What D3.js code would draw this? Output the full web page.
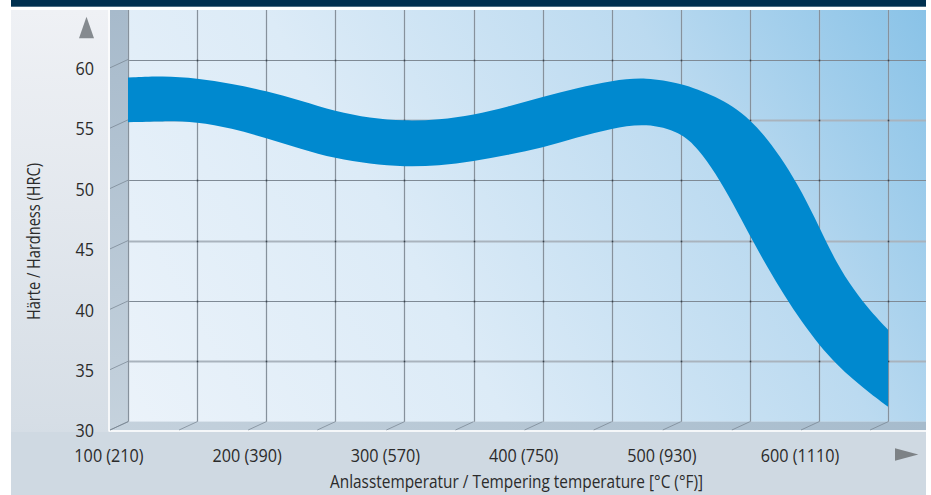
<!DOCTYPE html>
<html>
<head>
<meta charset="utf-8">
<script src="https://cdn.jsdelivr.net/npm/d3@7"></script>
<style>
  body { margin: 0; background: #ffffff; }
  svg { display: block; }
</style>
</head>
<body>
<svg id="chart" width="931" height="495"></svg>
<script>
// Tempering curve: hardness band (HRC) versus tempering temperature (°C)
const temps    = [100, 125, 150, 175, 200, 225, 250, 275, 300, 325, 350, 375, 400, 425, 450, 475, 500, 512.5, 525, 537.5, 550, 562.5, 575, 587.5, 600, 612.5, 625, 637.5, 650];
const upperHRC = [58.5, 58.65, 58.45, 58.0, 57.4, 56.6, 55.7, 55.15, 54.9, 55.0, 55.4, 56.1, 56.9, 57.65, 58.25, 58.55, 58.0, 57.51, 56.93, 56.14, 55.02, 53.45, 51.46, 49.06, 46.16, 43.17, 40.94, 39.11, 37.62];
const lowerHRC = [54.8, 54.9, 54.85, 54.3, 53.5, 52.6, 51.8, 51.35, 51.1, 51.2, 51.55, 52.1, 52.7, 53.55, 54.3, 54.75, 54.0, 52.6, 50.61, 48.13, 45.39, 42.83, 40.42, 38.27, 36.36, 34.79, 33.46, 32.3, 31.23];

const hrcTicks = [30, 35, 40, 45, 50, 55, 60];
const gridTemps = [100, 150, 200, 250, 300, 350, 400, 450, 500, 550, 600, 650];
const tempLabels = [
  { t: 100, label: "100 (210)" },
  { t: 200, label: "200 (390)" },
  { t: 300, label: "300 (570)" },
  { t: 400, label: "400 (750)" },
  { t: 500, label: "500 (930)" },
  { t: 600, label: "600 (1110)" }
];
const xTitle = "Anlasstemperatur / Tempering temperature [°C (°F)]";
const yTitle = "Härte / Hardness (HRC)";

const svg = d3.select("#chart");
const defs = svg.append("defs");

// Back wall geometry and pseudo-3D depth offset (back -> front)
const wall = { left: 128, right: 926, top: 10, bottom: 421.7 };
const depth = { dx: -18, dy: 8.3 };

const x = d3.scaleLinear().domain([100, 650]).range([128, 888.1]);
const y = d3.scaleLinear().domain([30, 60]).range([421.7, 59.5]);

const FONT = "'Open Sans', 'Noto Sans', sans-serif";

// ---------- gradients ----------
function linGrad(id, x1, y1, x2, y2, stops) {
  const g = defs.append("linearGradient").attr("id", id)
    .attr("gradientUnits", "userSpaceOnUse")
    .attr("x1", x1).attr("y1", y1).attr("x2", x2).attr("y2", y2);
  stops.forEach(([o, c]) => g.append("stop").attr("offset", o).attr("stop-color", c));
}
linGrad("bgGrad", 0, 10, 0, 495, [[0, "#eff1f5"], [0.85, "#d6dee6"], [1, "#cdd8e1"]]);
linGrad("wallGrad", 128, 470, 926, 0, [[0, "#ecf3fa"], [0.38, "#dcebf7"], [0.72, "#bbdaf0"], [1, "#88c2e7"]]);
linGrad("sideGrad", 0, 10, 0, 432, [[0, "#a7bacb"], [1, "#c5d2dd"]]);
linGrad("floorGrad", 110, 0, 926, 0, [[0, "#c5d2dd"], [1, "#a6bbcc"]]);

// ---------- background panels ----------
svg.append("rect").attr("x", 11).attr("y", 0).attr("width", 915).attr("height", 6.7).attr("fill", "#00304f");
svg.append("rect").attr("x", 11).attr("y", 10).attr("width", 915).attr("height", 485).attr("fill", "url(#bgGrad)");
svg.append("rect").attr("x", 11).attr("y", 432).attr("width", 915).attr("height", 63).attr("fill", "#cfd9e2");

// back wall
svg.append("rect")
  .attr("x", wall.left).attr("y", wall.top)
  .attr("width", wall.right - wall.left).attr("height", wall.bottom - wall.top)
  .attr("fill", "url(#wallGrad)");

// left side wall
svg.append("rect")
  .attr("x", wall.left + depth.dx).attr("y", wall.top)
  .attr("width", -depth.dx).attr("height", wall.bottom + depth.dy - wall.top)
  .attr("fill", "url(#sideGrad)");

// floor
svg.append("rect")
  .attr("x", wall.left + depth.dx).attr("y", wall.bottom)
  .attr("width", wall.right - wall.left - depth.dx).attr("height", depth.dy)
  .attr("fill", "url(#floorGrad)");

// white front edges
svg.append("line")
  .attr("x1", wall.left + depth.dx - 1).attr("x2", wall.left + depth.dx - 1)
  .attr("y1", wall.top).attr("y2", wall.bottom + depth.dy + 1.5)
  .attr("stroke", "#ffffff").attr("stroke-width", 1.5);
svg.append("line")
  .attr("x1", wall.left + depth.dx - 1).attr("x2", wall.right)
  .attr("y1", wall.bottom + depth.dy + 1).attr("y2", wall.bottom + depth.dy + 1)
  .attr("stroke", "#ffffff").attr("stroke-width", 1.5);

// ---------- grid ----------
const grid = svg.append("g");

// horizontal grid lines on the back wall
hrcTicks.filter(v => v > 30).forEach(v => {
  const yy = Math.round(y(v)) + 0.5;
  const soft = (v / 5) % 2 === 1; // 35, 45, 55
  grid.append("line")
    .attr("x1", wall.left).attr("x2", wall.right)
    .attr("y1", yy).attr("y2", yy)
    .attr("stroke", soft ? "#a9b3bd" : "#7f8a95")
    .attr("stroke-width", soft ? 2 : 1);
});

// vertical grid lines on the back wall
gridTemps.forEach(t => {
  const xx = Math.round(x(t)) + 0.5;
  grid.append("line")
    .attr("x1", xx).attr("x2", xx)
    .attr("y1", wall.top).attr("y2", wall.bottom)
    .attr("stroke", "#b2bcc6").attr("stroke-width", 2).attr("stroke-opacity", 0.45);
  grid.append("line")
    .attr("x1", xx).attr("x2", xx)
    .attr("y1", wall.top).attr("y2", wall.bottom)
    .attr("stroke", "#86919c").attr("stroke-width", 1);
});

// intersection dots
hrcTicks.filter(v => v > 30).forEach(v => {
  gridTemps.slice(1).forEach(t => {
    grid.append("rect")
      .attr("x", Math.round(x(t)) - 0.3).attr("y", Math.round(y(v)) - 0.3)
      .attr("width", 1.6).attr("height", 1.6)
      .attr("fill", "#38434e");
  });
});

// depth lines on the side wall
hrcTicks.forEach(v => {
  grid.append("line")
    .attr("x1", wall.left).attr("y1", y(v))
    .attr("x2", wall.left + depth.dx).attr("y2", y(v) + depth.dy)
    .attr("stroke", "#74818e").attr("stroke-width", 0.7);
});

// depth lines on the floor
gridTemps.forEach(t => {
  grid.append("line")
    .attr("x1", x(t)).attr("y1", wall.bottom)
    .attr("x2", x(t) + depth.dx).attr("y2", wall.bottom + depth.dy)
    .attr("stroke", "#74818e").attr("stroke-width", 0.7);
});

// ---------- hardness band ----------
const bandData = temps.map((t, i) => ({ t, hi: upperHRC[i], lo: lowerHRC[i] }));
const area = d3.area()
  .x(d => x(d.t))
  .y0(d => y(d.lo))
  .y1(d => y(d.hi))
  .curve(d3.curveBasis);

svg.append("path")
  .datum(bandData)
  .attr("d", area)
  .attr("fill", "#0089cf");

// ---------- axes labels ----------
const labels = svg.append("g")
  .attr("font-family", FONT)
  .attr("font-size", 18)
  .attr("fill", "#2b2b2b");

hrcTicks.forEach(v => {
  labels.append("text")
    .attr("transform", `translate(94,${y(v) + depth.dy + 0.5}) scale(0.9,1)`)
    .attr("text-anchor", "end")
    .attr("dominant-baseline", "central")
    .text(v);
});

tempLabels.forEach(d => {
  labels.append("text")
    .attr("transform", `translate(${x(d.t) + depth.dx - 1},462) scale(0.9,1)`)
    .attr("text-anchor", "middle")
    .text(d.label);
});

labels.append("text")
  .attr("x", 330).attr("y", 488)
  .attr("textLength", 373).attr("lengthAdjust", "spacingAndGlyphs")
  .text(xTitle);

labels.append("text")
  .attr("transform", "translate(40,320) rotate(-90)")
  .attr("textLength", 157).attr("lengthAdjust", "spacingAndGlyphs")
  .text(yTitle);

// axis arrows
svg.append("path")
  .attr("d", "M86.5,16.7 L94,38.3 L79,38.3 Z")
  .attr("fill", "#858a8f");
svg.append("path")
  .attr("d", "M895,448.3 L918.3,454.5 L895,460.7 Z")
  .attr("fill", "#7d8286");
</script>
</body>
</html>
